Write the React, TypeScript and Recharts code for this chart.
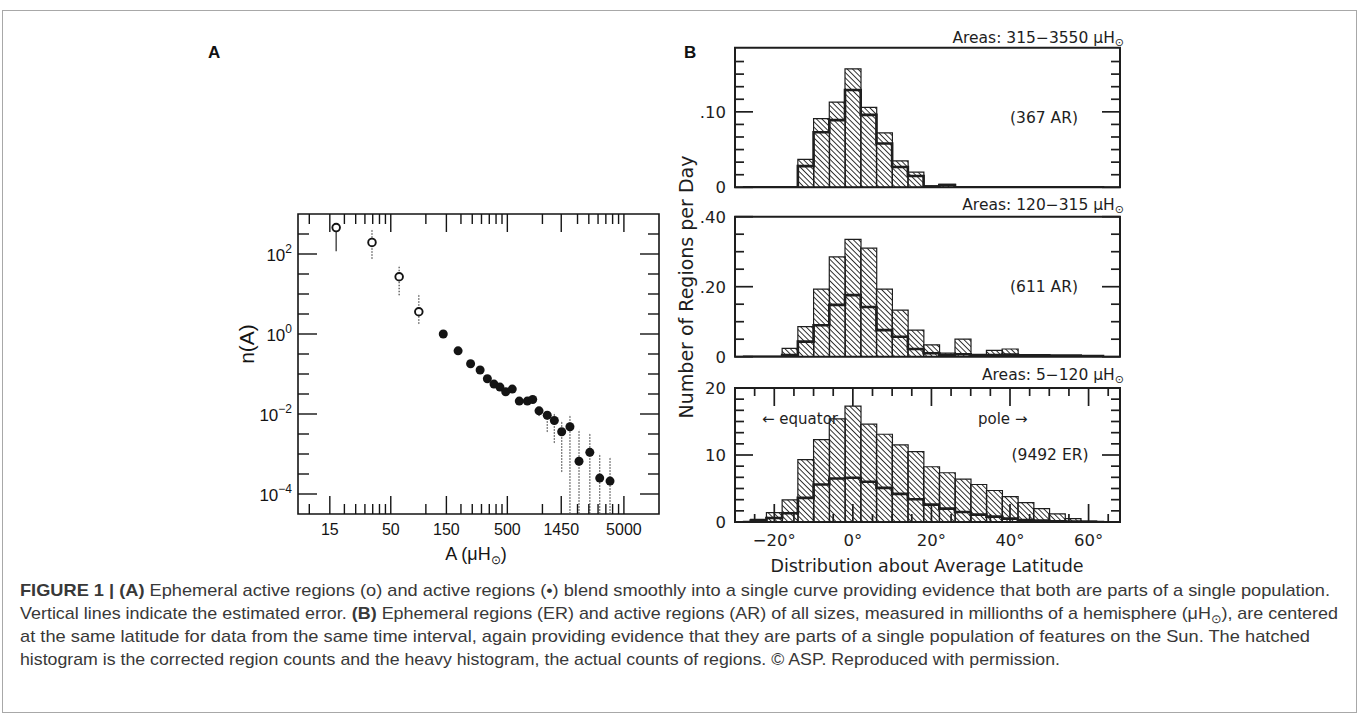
import React from 'react';
import {
  ScatterChart,
  ComposedChart,
  Scatter,
  ErrorBar,
  XAxis,
  YAxis,
  Bar,
  Line,
  ReferenceArea,
} from 'recharts';

// ---------------- panel A : n(A) against A ----------------
// ephemeral regions (open circles)
const erArea = [17, 34.5, 59, 87];
const erN = [457, 195, 27, 3.6];
const erLow = [117, 76, 9.3, 1.8];
const erHigh = [457, 417, 51, 10];

// active regions (filled circles)
const arArea = [141, 189, 242, 292, 337, 384, 432, 484, 551, 633, 742, 825, 935, 1100, 1265, 1463, 1722, 2060, 2550, 3100, 3800];
const arN = [1.0, 0.38, 0.18, 0.126, 0.076, 0.056, 0.047, 0.036, 0.042, 0.021, 0.021, 0.023, 0.012, 0.0093, 0.0069, 0.0036, 0.0048, 0.00066, 0.0011, 0.00025, 0.00021];
const arLow = [1.0, 0.38, 0.18, 0.126, 0.076, 0.056, 0.047, 0.036, 0.042, 0.021, 0.021, 0.023, 0.0089, 0.0036, 0.0019, 0.00036, 0.000032, 0.000032, 0.000032, 0.000032, 0.000032];
const arHigh = [1.0, 0.38, 0.18, 0.126, 0.076, 0.056, 0.047, 0.036, 0.042, 0.021, 0.021, 0.023, 0.014, 0.0115, 0.0105, 0.0065, 0.0093, 0.004, 0.0032, 0.001, 0.0008];

const areaTicks = [10, 15, 20, 25, 30, 35, 40, 45, 50, 100, 150, 200, 250, 300, 350, 400, 450, 500, 1000, 1450, 2000, 2500, 3000, 3500, 4000, 4500, 5000];
const areaLabels = [15, 50, 150, 500, 1450, 5000];
const nTickExp = [-4, -3.5, -3, -2.5, -2, -1.5, -1, -0.5, 0, 0.5, 1, 1.5, 2, 2.5];
const nLabelExp = [-4, -2, 0, 2];

// ---------------- panel B : latitude histograms ----------------
const lat = [-28, -24, -20, -16, -12, -8, -4, 0, 4, 8, 12, 16, 20, 24, 28, 32, 36, 40, 44, 48, 52, 56, 60, 64];

// Areas 315-3550 (367 AR)
const bigCorr = [0, 0, 0, 0, 0.037, 0.091, 0.113, 0.157, 0.106, 0.072, 0.035, 0.02, 0.002, 0.004, 0, 0, 0, 0, 0, 0, 0, 0, 0, 0];
const bigAct = [0, 0, 0, 0, 0.028, 0.073, 0.089, 0.129, 0.096, 0.058, 0.027, 0.015, 0.001, 0.003, 0, 0, 0, 0, 0, 0, 0, 0, 0, 0];
// Areas 120-315 (611 AR)
const midCorr = [0, 0, 0, 0.024, 0.086, 0.193, 0.285, 0.335, 0.31, 0.193, 0.133, 0.076, 0.034, 0.01, 0.05, 0.004, 0.018, 0.022, 0.004, 0.003, 0.002, 0.002, 0.001, 0];
const midAct = [0, 0, 0, 0.005, 0.043, 0.09, 0.148, 0.176, 0.142, 0.076, 0.057, 0.022, 0.01, 0.005, 0.007, 0.005, 0.005, 0.006, 0.004, 0.004, 0.003, 0.003, 0.002, 0.002];
// Areas 5-120 (9492 ER)
const smallCorr = [0, 0.4, 1.4, 3.3, 9.3, 12.3, 15.4, 17.3, 14.6, 13.1, 11.5, 10.5, 8.25, 7.35, 6.4, 5.6, 4.7, 3.8, 2.9, 2.0, 1.2, 0.5, 0.15, 0];
const smallAct = [0, 0.2, 0.6, 1.3, 3.6, 5.6, 6.5, 6.6, 6.0, 5.1, 4.2, 3.4, 2.6, 2.0, 1.5, 1.1, 0.8, 0.5, 0.3, 0.2, 0.1, 0.05, 0, 0];

const latTicks = [-25, -20, -15, -10, -5, 0, 5, 10, 15, 20, 25, 30, 35, 40, 45, 50, 55, 60, 65];
const bigTicks = [0, 0.01667, 0.03333, 0.05, 0.06667, 0.08333, 0.1, 0.11667, 0.13333, 0.15, 0.16667];
const midTicks = [0, 0.05, 0.1, 0.15, 0.2, 0.25, 0.3, 0.35, 0.4];
const smallTicks = [0, 1.667, 3.333, 5, 6.667, 8.333, 10, 11.667, 13.333, 15, 16.667, 18.333, 20];

const INK_A = '#141414';
const INK_B = '#1e1e1e';
const SANS = "'Liberation Sans', Arial, Helvetica, sans-serif";
const PLOT = "'DejaVu Sans', Verdana, sans-serif";
const CAPTION = "'Liberation Sans Narrow', 'Liberation Sans', Arial, sans-serif";

// ---------------- panel A chart ----------------
const A_W = 480;
const A_H = 370;
const A_M = { top: 24, right: 21, bottom: 16, left: 0 };
const A_DOM_X: [number, number] = [8, 10000];
const A_DOM_Y: [number, number] = [3.1623e-5, 1000];

const toPts = (a: number[], n: number[], lo: number[], hi: number[]) =>
  a.map((x, i) => ({ area: x, n: n[i], err: [n[i] - lo[i], hi[i] - n[i]] }));

const erPts = toPts(erArea, erN, erLow, erHigh);
const arPts = toPts(arArea, arN, arLow, arHigh);

function areaTick(props: any) {
  const { x, y, payload } = props;
  const v = payload.value;
  const major = areaLabels.includes(v);
  const len = major ? 18 : 10;
  return (
    <g>
      <line x1={x} y1={y} x2={x} y2={y - len} stroke={INK_A} strokeWidth={1.4} />
      <line x1={x} y1={A_M.top} x2={x} y2={A_M.top + len} stroke={INK_A} strokeWidth={1.4} />
      {major && (
        <text x={x} y={y + 21} textAnchor="middle" fill={INK_A} fontSize={16} fontFamily={SANS}>
          {v}
        </text>
      )}
    </g>
  );
}

function nTick(props: any) {
  const { x, y, payload } = props;
  const e = Math.round(Math.log10(payload.value) * 2) / 2;
  const major = nLabelExp.includes(e);
  const len = major ? 19 : 11;
  const right = A_W - A_M.right;
  return (
    <g>
      <line x1={x} y1={y} x2={x + len} y2={y} stroke={INK_A} strokeWidth={1.4} />
      <line x1={right} y1={y} x2={right - len} y2={y} stroke={INK_A} strokeWidth={1.4} />
      {major && (
        <text x={x - 6} y={y + 7} textAnchor="end" fill={INK_A} fontSize={17} fontFamily={SANS}>
          10
          <tspan dy={-8} fontSize={12}>
            {e < 0 ? '\u2212' + -e : e}
          </tspan>
        </text>
      )}
    </g>
  );
}

const openDot = (p: any) => <circle cx={p.cx} cy={p.cy} r={3.8} fill="#fff" stroke={INK_A} strokeWidth={1.9} />;
const fullDot = (p: any) => <circle cx={p.cx} cy={p.cy} r={4.5} fill={INK_A} />;

function PanelA() {
  return (
    <ScatterChart width={A_W} height={A_H} margin={A_M}>
      <XAxis
        dataKey="area"
        type="number"
        scale="log"
        domain={A_DOM_X}
        allowDataOverflow
        ticks={areaTicks}
        interval={0}
        tickSize={0}
        tickMargin={0}
        tickLine={false}
        axisLine={false}
        height={30}
        tick={areaTick}
      />
      <YAxis
        dataKey="n"
        type="number"
        scale="log"
        domain={A_DOM_Y}
        allowDataOverflow
        ticks={nTickExp.map((e) => 10 ** e)}
        interval={0}
        tickSize={0}
        tickMargin={0}
        tickLine={false}
        axisLine={false}
        width={98}
        tick={nTick}
      />
      <ReferenceArea
        x1={A_DOM_X[0]}
        x2={A_DOM_X[1]}
        y1={A_DOM_Y[0]}
        y2={A_DOM_Y[1]}
        fill="none"
        stroke={INK_A}
        strokeWidth={1.6}
      />
      <Scatter data={erPts.slice(0, 1)} shape={openDot} isAnimationActive={false}>
        <ErrorBar dataKey="err" direction="y" width={0} stroke="#333" strokeWidth={1.3} />
      </Scatter>
      <Scatter data={erPts.slice(1)} shape={openDot} isAnimationActive={false}>
        <ErrorBar dataKey="err" direction="y" width={0} stroke="#555" strokeWidth={1.3} strokeDasharray="1.5 1.5" />
      </Scatter>
      <Scatter data={arPts} shape={fullDot} isAnimationActive={false}>
        <ErrorBar dataKey="err" direction="y" width={0} stroke="#555" strokeWidth={1.3} strokeDasharray="1.5 1.5" />
      </Scatter>
    </ScatterChart>
  );
}

// ---------------- panel B charts ----------------
const B_W = 440;
const B_YW = 35;
const B_RIGHT = 20;
const B_DOM: [number, number] = [-30, 68];

type HistProps = {
  id: string;
  height: number;
  mTop: number;
  mBottom: number;
  xh: number;
  corr: number[];
  act: number[];
  yMax: number;
  yTicks: number[];
  yLabels: number[];
  fmt: (v: number) => string;
  showLat: boolean;
};

function Hist({ id, height, mTop, mBottom, xh, corr, act, yMax, yTicks, yLabels, fmt, showLat }: HistProps) {
  const rows = lat.map((l, i) => ({ lat: l, corr: corr[i], act: act[i] }));
  const plotRight = B_W - B_RIGHT;

  const latTick = (props: any) => {
    const { x, y, payload } = props;
    const v = payload.value;
    const major = v % 20 === 0;
    const len = major ? 18 : 8;
    return (
      <g>
        <line x1={x} y1={y} x2={x} y2={y - len} stroke={INK_B} strokeWidth={1.7} />
        <line x1={x} y1={mTop} x2={x} y2={mTop + len} stroke={INK_B} strokeWidth={1.7} />
        {showLat && major && (
          <text x={x} y={y + 24} textAnchor="middle" fill={INK_B} fontSize={16.5} fontFamily={PLOT}>
            {(v < 0 ? '\u2212' + -v : String(v)) + '\u00b0'}
          </text>
        )}
      </g>
    );
  };

  const countTick = (props: any) => {
    const { x, y, payload } = props;
    const v = payload.value;
    const lab = yLabels.some((l) => Math.abs(l - v) < 1e-6);
    const len = lab ? 18 : 9;
    return (
      <g>
        <line x1={x} y1={y} x2={x + len} y2={y} stroke={INK_B} strokeWidth={1.7} />
        <line x1={plotRight} y1={y} x2={plotRight - len} y2={y} stroke={INK_B} strokeWidth={1.7} />
        {lab && (
          <text x={x - 9} y={y + 6} textAnchor="end" fill={INK_B} fontSize={16.5} fontFamily={PLOT}>
            {fmt(v)}
          </text>
        )}
      </g>
    );
  };

  return (
    <ComposedChart
      width={B_W}
      height={height}
      data={rows}
      margin={{ top: mTop, right: B_RIGHT, bottom: mBottom, left: 0 }}
      barCategoryGap={0}
      barGap={0}
    >
      <defs>
        <pattern id={id} width={3.8} height={3.8} patternUnits="userSpaceOnUse" patternTransform="rotate(-45)">
          <line x1={0} y1={0} x2={0} y2={3.8} stroke={INK_B} strokeWidth={1.8} />
        </pattern>
      </defs>
      <XAxis
        dataKey="lat"
        type="number"
        domain={B_DOM}
        allowDataOverflow
        ticks={latTicks}
        interval={0}
        tickSize={0}
        tickMargin={0}
        tickLine={false}
        axisLine={false}
        height={xh}
        tick={latTick}
      />
      <YAxis
        type="number"
        domain={[0, yMax]}
        allowDataOverflow
        ticks={yTicks}
        interval={0}
        tickSize={0}
        tickMargin={0}
        tickLine={false}
        axisLine={false}
        width={B_YW}
        tick={countTick}
      />
      <Bar dataKey="corr" fill={`url(#${id})`} stroke={INK_B} strokeWidth={1.2} isAnimationActive={false} />
      <Line type="step" dataKey="act" stroke={INK_B} strokeWidth={2.6} dot={false} isAnimationActive={false} />
      <ReferenceArea x1={B_DOM[0]} x2={B_DOM[1]} y1={0} y2={yMax} fill="none" stroke={INK_B} strokeWidth={2} />
    </ComposedChart>
  );
}

const fmtFrac = (v: number) => (v === 0 ? '0' : '.' + Math.round(v * 100));
const fmtInt = (v: number) => String(Math.round(v));

export default function App() {
  return (
    <div style={{ position: 'absolute', left: 0, top: 0, width: 1360, height: 715, background: '#fff', overflow: 'hidden' }}>
      <div style={{ position: 'absolute', left: 200, top: 190 }}>
        <PanelA />
      </div>
      <div style={{ position: 'absolute', left: 700, top: 30 }}>
        <Hist id="hatchBig" height={170} mTop={17.7} mBottom={12.7} xh={0} corr={bigCorr} act={bigAct} yMax={0.185} yTicks={bigTicks} yLabels={[0, 0.1]} fmt={fmtFrac} showLat={false} />
      </div>
      <div style={{ position: 'absolute', left: 700, top: 200 }}>
        <Hist id="hatchMid" height={170} mTop={16.7} mBottom={13.3} xh={0} corr={midCorr} act={midAct} yMax={0.4} yTicks={midTicks} yLabels={[0, 0.2, 0.4]} fmt={fmtFrac} showLat={false} />
      </div>
      <div style={{ position: 'absolute', left: 700, top: 370 }}>
        <Hist id="hatchSmall" height={190} mTop={18} mBottom={8} xh={30} corr={smallCorr} act={smallAct} yMax={20} yTicks={smallTicks} yLabels={[0, 10, 20]} fmt={fmtInt} showLat={true} />
      </div>

      <svg width={1360} height={715} style={{ position: 'absolute', left: 0, top: 0, pointerEvents: 'none' }}>
        <rect x={2.5} y={10.5} width={1354} height={702} fill="none" stroke="#a8a8a8" strokeWidth={1} />

        <text x={208} y={58} fontSize={17} fontWeight="bold" fontFamily={SANS} fill="#111">A</text>
        <text x={684} y={58} fontSize={17} fontWeight="bold" fontFamily={SANS} fill="#111">B</text>

        {/* panel A titles */}
        <text x={246} y={344} fontSize={21} fontFamily={SANS} fill={INK_A} textAnchor="middle" dominantBaseline="central" transform="rotate(-90 246 344)">
          n(A)
        </text>
        <text x={476} y={560} fontSize={18} fontFamily={SANS} fill={INK_A} textAnchor="middle">
          A (μH<tspan dy={4} fontSize={12}>⊙</tspan><tspan dy={-4}>)</tspan>
        </text>

        {/* panel B titles and notes */}
        <g fontFamily={PLOT} fill={INK_B}>
          <text x={1124} y={43} fontSize={15.5} textAnchor="end">
            Areas: 315{'\u2212'}3550 μH<tspan dy={3} fontSize={11}>⊙</tspan>
          </text>
          <text x={1124} y={210} fontSize={15.5} textAnchor="end">
            Areas: 120{'\u2212'}315 μH<tspan dy={3} fontSize={11}>⊙</tspan>
          </text>
          <text x={1124} y={380} fontSize={15.5} textAnchor="end">
            Areas: 5{'\u2212'}120 μH<tspan dy={3} fontSize={11}>⊙</tspan>
          </text>
          <text x={1044} y={123} fontSize={15.5} textAnchor="middle">(367 AR)</text>
          <text x={1044} y={292} fontSize={15.5} textAnchor="middle">(611 AR)</text>
          <text x={1050} y={460} fontSize={15.5} textAnchor="middle">(9492 ER)</text>
          <text x={762} y={424} fontSize={15}>{'\u2190'} equator</text>
          <text x={978} y={424} fontSize={15}>pole {'\u2192'}</text>
          <text x={686} y={287} fontSize={19} textAnchor="middle" dominantBaseline="central" transform="rotate(-90 686 287)">
            Number of Regions per Day
          </text>
          <text x={927} y={572} fontSize={17.5} textAnchor="middle">
            Distribution about Average Latitude
          </text>
        </g>

        {/* caption */}
        <g fontFamily={CAPTION} fontSize={17} fill="#383838">
          <text x={20} y={596} textLength={1310} lengthAdjust="spacingAndGlyphs">
            <tspan fontWeight="bold">FIGURE 1 | (A)</tspan> Ephemeral active regions (o) and active regions (•) blend smoothly into a single curve providing evidence that both are parts of a single population.
          </text>
          <text x={20} y={619} textLength={1318} lengthAdjust="spacingAndGlyphs">
            Vertical lines indicate the estimated error. <tspan fontWeight="bold">(B)</tspan> Ephemeral regions (ER) and active regions (AR) of all sizes, measured in millionths of a hemisphere (μH<tspan dy={4} fontSize={12}>⊙</tspan><tspan dy={-4}>), are centered</tspan>
          </text>
          <text x={20} y={642} textLength={1290} lengthAdjust="spacingAndGlyphs">
            at the same latitude for data from the same time interval, again providing evidence that they are parts of a single population of features on the Sun. The hatched
          </text>
          <text x={20} y={665} textLength={1040} lengthAdjust="spacingAndGlyphs">
            histogram is the corrected region counts and the heavy histogram, the actual counts of regions. © ASP. Reproduced with permission.
          </text>
        </g>
      </svg>
    </div>
  );
}
